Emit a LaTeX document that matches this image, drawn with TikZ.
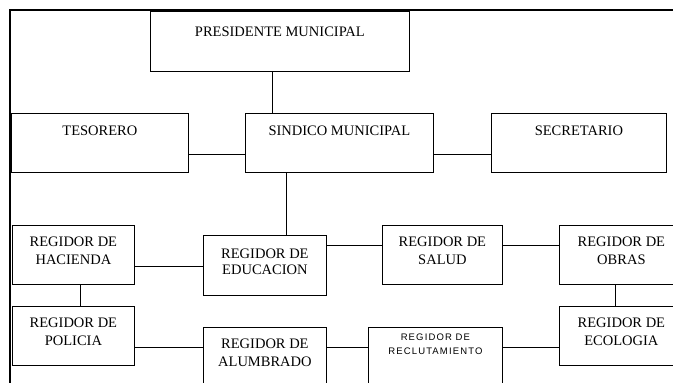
\documentclass[tikz,border=0pt]{standalone}
\usepackage{fontspec}
\setmainfont{Liberation Serif}
\newfontfamily\letrachica[LetterSpace=12]{Liberation Sans}
\tikzset{
  caja/.style={draw, line width=0.8pt, anchor=north west, inner sep=0pt, align=center,
    font=\fontsize{14.5}{18.5}\selectfont, text height=39.5pt, text depth=19.5pt},
  linea/.style={line width=0.8pt}
}
\begin{document}
\begin{tikzpicture}[x=1pt,y=-1pt]
                \useasboundingbox (0,0) rectangle (673,383);
                \clip (0,0) rectangle (673,383);
                % Marco de la hoja
                \draw[line width=1.8pt] (10,383) -- (10,10) -- (673,10);
                % Presidente
                \node[caja, minimum width=259pt, text height=25pt, text depth=35pt] (presidente) at (150,11) {PRESIDENTE MUNICIPAL};
                % Segundo nivel
                \node[caja, minimum width=177pt, text height=22pt, text depth=37pt] (tesorero) at (11,113) {TESORERO};
                \node[caja, minimum width=188pt, text height=22pt, text depth=37pt] (sindico) at (245,113) {SINDICO MUNICIPAL};
                \node[caja, minimum width=175pt, text height=22pt, text depth=37pt] (secretario) at (491,113) {SECRETARIO};
                % Regidores
                \node[caja, minimum width=122pt] (hacienda) at (12,225) {REGIDOR DE\\HACIENDA};
                \node[caja, minimum width=123pt, font=\fontsize{14.5}{16}\selectfont, text height=39pt, text depth=21pt] (educacion) at (203,235) {REGIDOR DE\\EDUCACION};
                \node[caja, minimum width=120pt] (salud) at (382,225) {REGIDOR DE\\SALUD};
                \node[caja, minimum width=124pt] (obras) at (559,225) {REGIDOR DE\\OBRAS};
                \node[caja, minimum width=122pt] (policia) at (12,306) {REGIDOR DE\\POLICIA};
                \node[caja, minimum width=123pt, text height=39.5pt, text depth=30.5pt] (alumbrado) at (203,327) {REGIDOR DE\\ALUMBRADO};
                \node[caja, minimum width=134pt, font=\letrachica\fontsize{9.5}{14}\selectfont, text height=27pt, text depth=43pt] (reclutamiento) at (368,327) {REGIDOR DE\\RECLUTAMIENTO};
                \node[caja, minimum width=124pt] (ecologia) at (559,306) {REGIDOR DE\\ECOLOGIA};
                % Lineas
                \draw[linea] ([xshift=-7.5pt]presidente.south) -- ([xshift=-7.5pt]presidente.south |- sindico.north);
                \draw[linea] ([yshift=-11.5pt]tesorero.east) -- ([yshift=-11.5pt]tesorero.east -| sindico.west);
                \draw[linea] ([yshift=-11.5pt]sindico.east) -- ([yshift=-11.5pt]sindico.east -| secretario.west);
                \draw[linea] ([xshift=-53pt]sindico.south) -- ([xshift=-53pt]sindico.south |- educacion.north);
                \draw[linea] ([yshift=-1pt]educacion.west) -- ([yshift=-1pt]educacion.west -| hacienda.east);
                \draw[linea] ([yshift=9.5pt]salud.west) -- ([yshift=9.5pt]salud.west -| educacion.east);
                \draw[linea] ([yshift=9.5pt]salud.east) -- ([yshift=9.5pt]salud.east -| obras.west);
                \draw[linea] ([xshift=7pt]hacienda.south) -- ([xshift=7pt]hacienda.south |- policia.north);
                \draw[linea] ([xshift=-6pt]obras.south) -- ([xshift=-6pt]obras.south |- ecologia.north);
                \draw[linea] ([yshift=-11.5pt]policia.east) -- ([yshift=-11.5pt]policia.east -| alumbrado.west);
                \draw[linea] ([yshift=-11.5pt]policia.east -| alumbrado.east) -- ([yshift=-11.5pt]policia.east -| reclutamiento.west);
                \draw[linea] ([yshift=-11.5pt]ecologia.west) -- ([yshift=-11.5pt]ecologia.west -| reclutamiento.east);
            \end{tikzpicture}
\end{document}
